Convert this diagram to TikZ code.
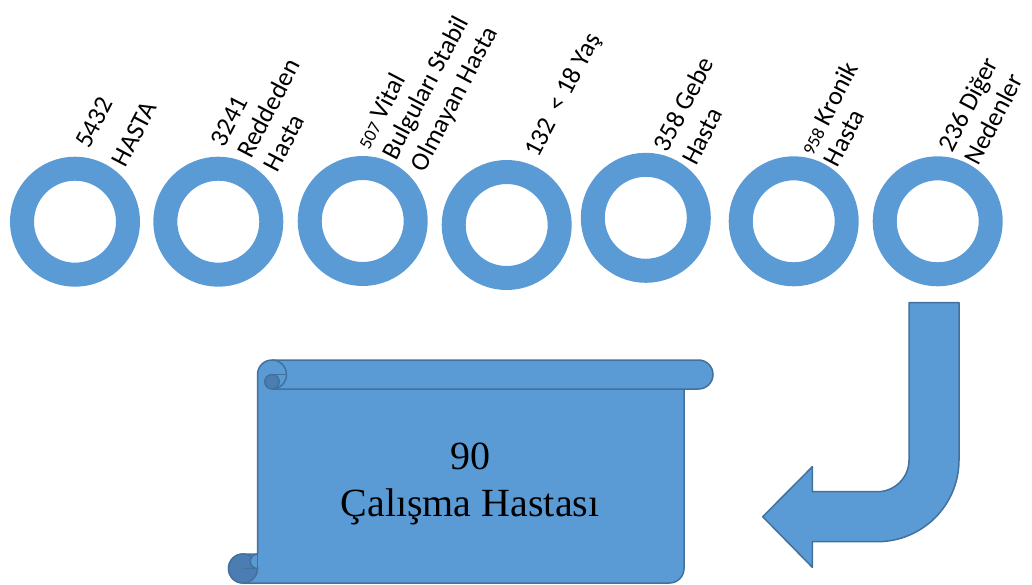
\documentclass[tikz,border=0pt]{standalone}
\usepackage{fontspec}
\setmainfont{Liberation Serif}
\newfontfamily\lblfont{Carlito}
\definecolor{ringblue}{HTML}{5B9BD5}
\definecolor{edgeblue}{HTML}{41719C}
\definecolor{rollblue}{HTML}{4B7DB3}
\tikzset{
  ring/.style={circle, draw=ringblue, line width=24pt, minimum size=106pt, inner sep=0pt},
  lbl/.style={font=\lblfont\fontsize{26}{28}\selectfont, rotate=62.4, anchor=base west, inner sep=0pt},
  shapefill/.style={fill=ringblue, draw=edgeblue, line width=1.5pt, line join=round},
  darkpart/.style={fill=rollblue, draw=edgeblue, line width=1.5pt},
  edgeline/.style={draw=edgeblue, line width=1.5pt},
  bigtext/.style={font=\fontsize{40}{46}\selectfont, anchor=base, inner sep=0pt}
}
\newcommand{\smallnum}[1]{{\fontsize{18}{20}\selectfont #1}}
\begin{document}
\begin{tikzpicture}[x=1pt, y=-1pt]
\useasboundingbox (0,0) rectangle (1032,585);

% row of rings
\node[ring] (r1) at (75,221.7) {};
\node[ring] (r2) at (218.3,221.7) {};
\node[ring] (r3) at (362.7,221) {};
\node[ring] (r4) at (506.7,225) {};
\node[ring] (r5) at (645.8,217.8) {};
\node[ring] (r6) at (793.7,221.3) {};
\node[ring] (r7) at (937.7,221.3) {};

% slanted captions
\begin{scope}[shift={(6,5)}]
\node[lbl] (t1a) at (83,145) {5432};
\node[lbl] (t1b) at (119.5,163.5) {HASTA};

\node[lbl] (t2a) at (218.3,143.3) {3241};
\node[lbl] (t2b) at (245,155) {Reddeden};
\node[lbl] (t2c) at (271.7,168.3) {Hasta};

\node[lbl] (t3a) at (363,146) {\smallnum{507} Vital};
\node[lbl] (t3b) at (390,156.7) {Bulguları Stabil};
\node[lbl] (t3c) at (418.3,168.3) {Olmayan Hasta};

\node[lbl] (t4a) at (532,154) {132 \ {}< 18 Yaş};

\node[lbl] (t5a) at (661.7,148.3) {358 Gebe};
\node[lbl] (t5b) at (690,161.7) {Hasta};

\node[lbl] (t6a) at (806.7,151.7) {\smallnum{958} Kronik};
\node[lbl] (t6b) at (831.7,163.3) {Hasta};

\node[lbl] (t7a) at (946,148.3) {236 Diğer};
\node[lbl] (t7b) at (972.5,161.7) {Nedenler};
\end{scope}

% bent block arrow
\path[shapefill] (909,302.7) -- (959,302.7) -- (959,460)
  arc[start angle=0, end angle=90, radius=81.7]
  -- (812.3,541.7) -- (812.3,567.3) -- (762.7,516.7) -- (812.3,466.7)
  -- (812.3,491.7) -- (877.3,491.7)
  arc[start angle=90, end angle=0, radius=31.7]
  -- cycle;

% horizontal scroll
\path[shapefill] (257.5,374.5)
  arc[start angle=180, end angle=270, radius=14.5]
  -- (698.5,360)
  arc[start angle=-90, end angle=90, radius=14.5]
  -- (684,389) -- (684,568.5)
  arc[start angle=0, end angle=90, radius=14.5]
  -- (243,583)
  arc[start angle=90, end angle=270, radius=14.5]
  -- (257.5,554) -- cycle;
% top curl
\path[edgeline] (272,360) arc[start angle=-90, end angle=90, radius=14.5] -- (684,389);
\path[darkpart] (272,381.75) circle[radius=7.25];
\path[edgeline] (272,374.5) -- (286.5,374.5);
% bottom curl
\path[darkpart] (243,568.5) circle[radius=14.5];
\path[fill=ringblue, draw=edgeblue, line width=1.5pt] (257.5,554) arc[start angle=-90, end angle=-270, radius=7.25];
\path[edgeline] (243,568.5) -- (257.5,568.5);
\path[edgeline] (257.5,554) -- (257.5,568.5);

\node[bigtext] (n90) at (470,469.3) {90};
\node[bigtext] (ncal) at (470,516) {Çalışma Hastası};
\end{tikzpicture}
\end{document}
